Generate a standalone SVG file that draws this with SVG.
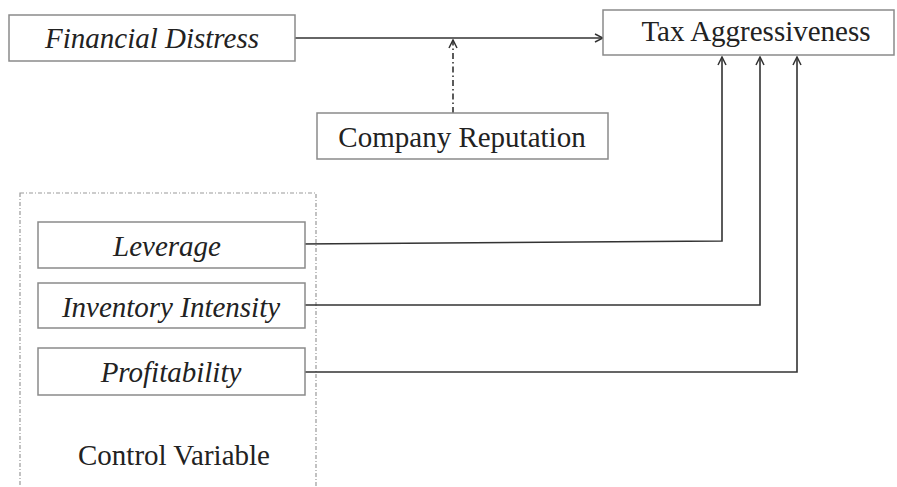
<svg xmlns="http://www.w3.org/2000/svg" width="897" height="487" viewBox="0 0 897 487">
<defs>
<style>
.box{fill:#fff;stroke:#8a8a8a;stroke-width:1.5}
.t{font-family:"Liberation Serif","Times New Roman",serif;font-size:29px;fill:#222;text-anchor:middle}
.i{font-style:italic}
.c{fill:none;stroke:#333;stroke-width:1.6}
</style>
<marker id="ah" markerWidth="10" markerHeight="10" refX="9" refY="5" orient="auto" markerUnits="userSpaceOnUse">
<path d="M1,1 L9,5 L1,9" fill="none" stroke="#333" stroke-width="1.5"/>
</marker>
</defs>
<rect width="897" height="487" fill="#fff"/>
<g id="control-group">
<rect x="20" y="193" width="296" height="300" fill="none" stroke="#999" stroke-width="1.2" stroke-dasharray="4,2,1,2"/>
<text class="t" x="174" y="465">Control Variable</text>
</g>
<g id="connectors">
<line class="c" x1="295" y1="38" x2="603" y2="38" marker-end="url(#ah)"/>
<line class="c" x1="453" y1="113" x2="453" y2="40" stroke-dasharray="6,3,1.5,3" marker-end="url(#ah)"/>
<polyline class="c" points="300,244 722,241 722,57" marker-end="url(#ah)"/>
<polyline class="c" points="305,305 760,305 760,57" marker-end="url(#ah)"/>
<polyline class="c" points="305,372 797,372 797,57" marker-end="url(#ah)"/>
</g>
<g id="financial-distress">
<rect class="box" x="9" y="15" width="286" height="46"/>
<text class="t i" x="152" y="48">Financial Distress</text>
</g>
<g id="tax-aggressiveness">
<rect class="box" x="603" y="10" width="291" height="45"/>
<text class="t" x="756" y="41">Tax Aggressiveness</text>
</g>
<g id="company-reputation">
<rect class="box" x="317" y="113" width="291" height="46"/>
<text class="t" x="462" y="147">Company Reputation</text>
</g>
<g id="leverage">
<rect class="box" x="38" y="222" width="267" height="46"/>
<text class="t i" x="167" y="256">Leverage</text>
</g>
<g id="inventory-intensity">
<rect class="box" x="38" y="283" width="267" height="45"/>
<text class="t i" x="171" y="317">Inventory Intensity</text>
</g>
<g id="profitability">
<rect class="box" x="38" y="348" width="267" height="47"/>
<text class="t i" x="171" y="382">Profitability</text>
</g>
</svg>
